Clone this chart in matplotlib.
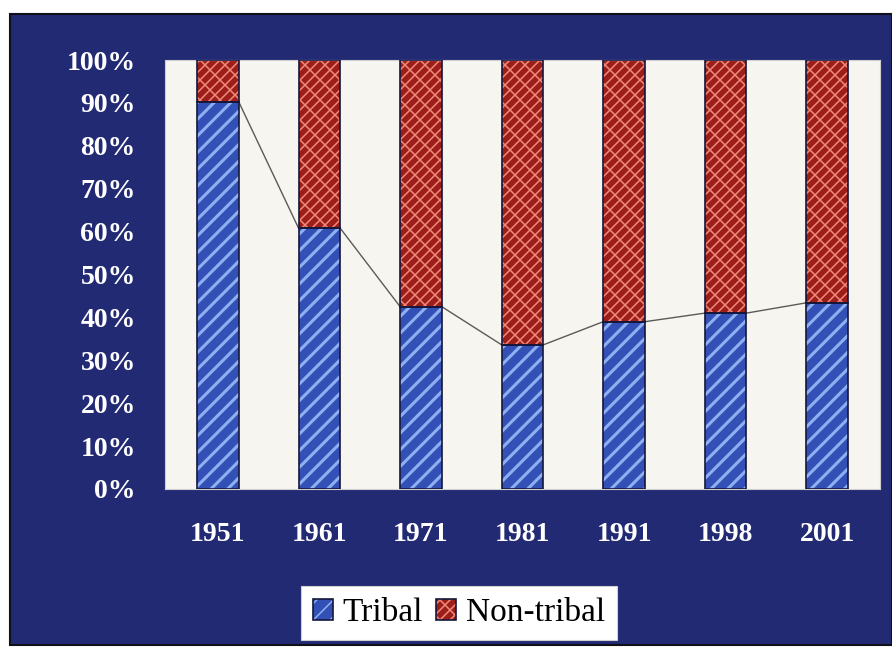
import warnings

import matplotlib
matplotlib.use("Agg")
import matplotlib.pyplot as plt
from matplotlib import hatch as mhatch
from matplotlib.path import Path
from matplotlib.patches import Rectangle

warnings.filterwarnings("ignore", category=matplotlib.MatplotlibDeprecationWarning)

years = ["1951", "1961", "1971", "1981", "1991", "1998", "2001"]
tribal = [90.3, 60.8, 42.5, 33.6, 39.0, 41.0, 43.4]
non_tribal = [100 - v for v in tribal]
series_names = ["Tribal", "Non-tribal"]

NAVY = "#232a74"
BLUE = "#3350b6"
BLUE_STRIPE = "#8fb0f0"
RED = "#9c1d1a"
RED_MORTAR = "#f08a78"
OUTLINE = "#15163a"


class BrickHatch(mhatch.HatchPatternBase):
    """Diagonal brick pattern, selected with the 'b' hatch character."""

    def __init__(self, hatch, density):
        # rows per tile, kept even so the staggered joints tile seamlessly
        n = int(round(hatch.count("b") * density * 0.85)) * 2
        self.n = n
        if n:
            self.num_vertices = 2 * (2 * n + 1) + 2 * (2 * n) * (3 * n + 1)
        else:
            self.num_vertices = 0

    def set_vertices_and_codes(self, vertices, codes):
        n = self.n
        pts = []
        for k in range(-n, n + 1):
            c = k / n
            pts += [(-1, -1 + c), (2, 2 + c)]
        for k in range(-n, n):
            c = k / n
            for j in range(-n, 2 * n + 1):
                t = j / n + (k % 2) / (2 * n)
                pts += [(t, t + c), (t - 0.5 / n, t + c + 0.5 / n)]
        vertices[:] = pts
        codes[0::2] = Path.MOVETO
        codes[1::2] = Path.LINETO


mhatch._hatch_types.append(BrickHatch)

plt.rcParams["font.family"] = ["Liberation Serif", "DejaVu Serif"]

fig = plt.figure(figsize=(8.92, 6.49), dpi=100, facecolor="white")
W, H = 892, 649
fig.patches.append(
    Rectangle((10 / W, 4 / H), 1 - 10 / W, 631 / H, transform=fig.transFigure,
              facecolor=NAVY, edgecolor="#101018", linewidth=1.5, zorder=-5)
)

ax = fig.add_axes([165 / W, 160 / H, 715 / W, 429 / H])
ax.set_facecolor("#f7f5ef")

x = list(range(len(years)))
width = 0.41

# hatch colour follows edgecolor, so fill+hatch and outline are drawn separately
plt.rcParams["hatch.linewidth"] = 2.2
t_fill = ax.bar(x, tribal, width, color=BLUE, edgecolor=BLUE_STRIPE, hatch="//",
                linewidth=0, zorder=2)
plt.rcParams["hatch.linewidth"] = 1.1
n_fill = ax.bar(x, non_tribal, width, bottom=tribal, color=RED,
                edgecolor=RED_MORTAR, hatch="b", linewidth=0, zorder=2)
t_edge = ax.bar(x, tribal, width, fill=False, edgecolor=OUTLINE, linewidth=1.2,
                zorder=3)
n_edge = ax.bar(x, non_tribal, width, bottom=tribal, fill=False,
                edgecolor=OUTLINE, linewidth=1.2, zorder=3)

# series lines between tops of the tribal segments
for i in range(len(years) - 1):
    ax.plot([x[i] + width / 2, x[i + 1] - width / 2], [tribal[i], tribal[i + 1]],
            color="#5a5a5a", linewidth=1.0, zorder=1)

ax.set_xlim(-0.52, len(years) - 0.48)
ax.set_ylim(0, 100)
ax.set_xticks(x, years)
ax.set_yticks(range(0, 101, 10), [f"{v}%" for v in range(0, 101, 10)])
ax.tick_params(axis="both", length=0, colors="white", labelsize=20)
ax.tick_params(axis="y", pad=21)
ax.tick_params(axis="x", pad=24)
for lab in ax.get_xticklabels() + ax.get_yticklabels():
    lab.set_fontweight("bold")
for s in ax.spines.values():
    s.set_color("#cfcfcf")
    s.set_linewidth(0.8)

leg = fig.legend(
    [(t_fill[0], t_edge[0]), (n_fill[0], n_edge[0])], series_names,
    loc="center", bbox_to_anchor=(459 / W, 36 / H), ncol=2, fontsize=24,
    frameon=True, fancybox=False, framealpha=1, facecolor="white",
    edgecolor="#d0d0d0", handlelength=0.6, handleheight=0.6,
    handletextpad=0.3, columnspacing=0.4, borderpad=0.35,
)
leg.get_frame().set_linewidth(0.8)

fig.savefig("out.png", dpi=100, facecolor=fig.get_facecolor())
